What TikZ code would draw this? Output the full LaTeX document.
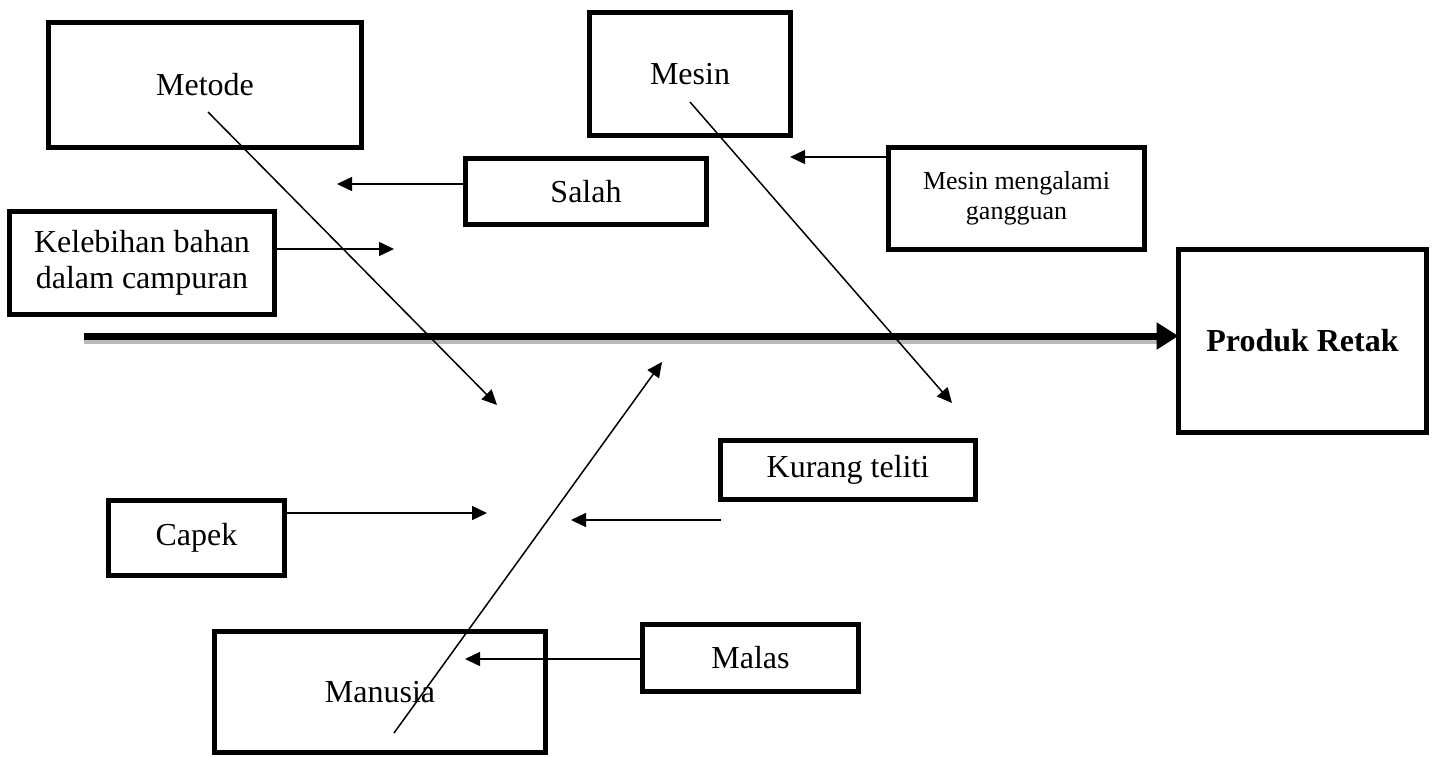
\documentclass[tikz,border=0pt]{standalone}
\usepackage{fontspec}
\setmainfont{Liberation Serif}
\usetikzlibrary{positioning,arrows.meta,calc}

\tikzset{
  box/.style={draw, line width=5pt, inner sep=0pt, outer sep=0pt, align=center, font={\fontsize{32}{36}\selectfont}},
  bone/.style={line width=1.5pt, -{Triangle[length=15pt,width=14pt]}},
}

\begin{document}
\begin{tikzpicture}[x=1pt, y=-1pt]
    \useasboundingbox (0,0) rectangle (1434,756);

    % kotak penyebab utama
    \node [box, minimum width=313pt, minimum height=125pt] (metode) at (205,85) {Metode};
    \node [box, minimum width=201pt, minimum height=123pt] (mesin) at (690,74) {Mesin};
    \node [box, minimum width=331pt, minimum height=121pt] (manusia) at (380,692) {Manusia};
    \node [box, minimum width=248pt, minimum height=183pt, font={\fontsize{32}{36}\selectfont\bfseries}] (produk) at (1302.5,341) {Produk Retak};

    % sub penyebab
    \node [box, minimum width=241pt, minimum height=66pt, below right=11pt and 104pt of metode] (salah) {Salah};
    \node [box, minimum width=256pt, minimum height=102pt, font={\fontsize{26}{30}\selectfont}, below right=12pt and 98pt of mesin] (mesin_g) {Mesin mengalami\\gangguan};
    \node [box, minimum width=265pt, minimum height=103pt] (kelebihan) at (142,263) {Kelebihan bahan\\dalam campuran};
    \node [box, minimum width=255pt, minimum height=59pt] (kurang) at (848,470) {Kurang teliti};
    \node [box, minimum width=176pt, minimum height=75pt] (capek) at (196.5,538) {Capek};
    \node [box, minimum width=216pt, minimum height=67pt] (malas) at (750.5,658) {Malas};

    % ujung panah
    \coordinate (metode_in) at (208,112);
    \coordinate (metode_out) at (497,405);
    \coordinate (mesin_in) at (690,102);
    \coordinate (mesin_out) at (952,403);
    \coordinate (manusia_in) at (394,733);
    \coordinate (manusia_out) at (662,362);
    \coordinate (salah_tip) at (337,184);
    \coordinate (mesin_g_tip) at (790,157);
    \coordinate (kel_tip) at (394,249);
    \coordinate (capek_tip) at (487,513);
    \coordinate (kurang_tip) at (571,520);
    \coordinate (malas_tip) at (465,659);

    % tulang utama
    \coordinate (spine) at (84,336);
    \coordinate (spine_end) at (spine -| produk.west);
    \draw [line width=5pt, gray!55] ($(spine)+(0,5.5)$) -- ($(spine_end)+(-14,5.5)$);
    \draw [line width=7pt, -{Triangle[length=22pt,width=26pt]}] (spine) -- (spine_end);

    \draw [bone] (metode_in) -- (metode_out);
    \draw [bone] (mesin_in) -- (mesin_out);
    \draw [bone] (manusia_in) -- (manusia_out);

    \draw [bone] (salah_tip -| salah.west) -- (salah_tip);
    \draw [bone] (mesin_g_tip -| mesin_g.west) -- (mesin_g_tip);
    \draw [bone] (kel_tip -| kelebihan.east) -- (kel_tip);
    \draw [bone] (capek_tip -| capek.east) -- (capek_tip);
    \draw [bone] (kurang_tip -| kurang.west) -- (kurang_tip);
    \draw [bone] (malas_tip -| malas.west) -- (malas_tip);
\end{tikzpicture}
\end{document}
